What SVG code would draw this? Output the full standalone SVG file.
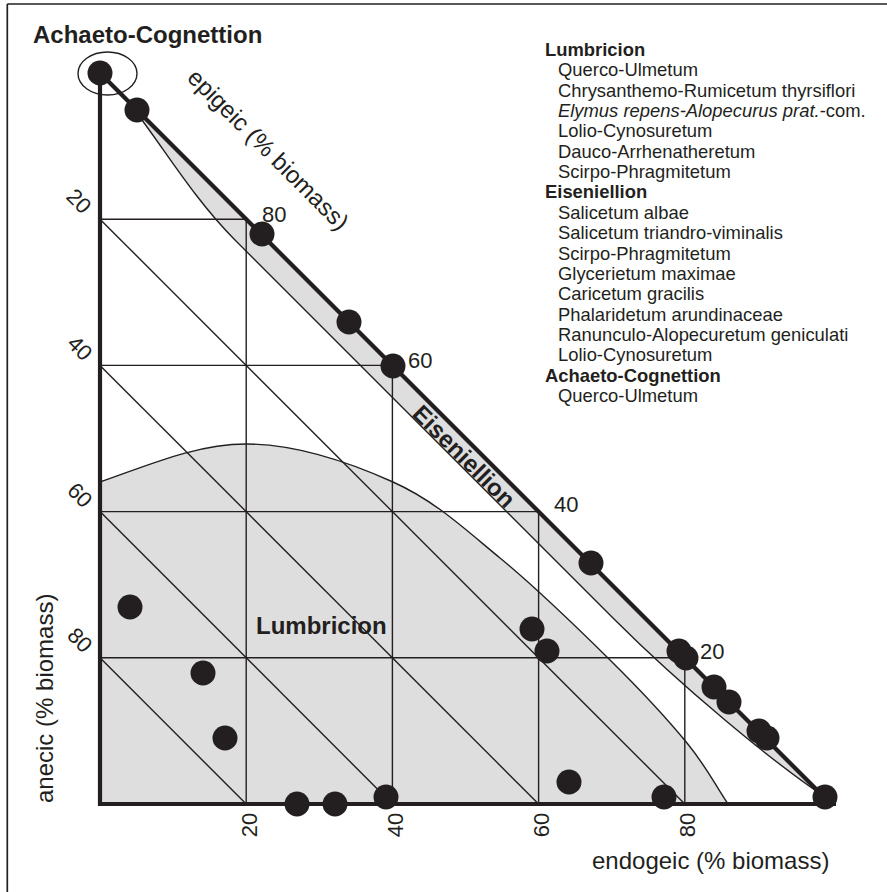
<svg xmlns="http://www.w3.org/2000/svg" width="887" height="892" viewBox="0 0 887 892">
<style>
text{font-family:"Liberation Sans",Arial,sans-serif;fill:#231f20}
.grid{stroke:#231f20;stroke-width:1.4;fill:none}
.thick{stroke:#231f20;stroke-width:4.2;fill:none;stroke-linecap:butt}
.dot{fill:#231f20}
.fill{fill:#dedede}
.ax{font-size:24px}
.tick{font-size:22px}
.lg{font-size:18.4px}
.b{font-weight:bold}
</style>
<rect x="0" y="0" width="887" height="892" fill="#ffffff"/>
<g id="frame" stroke="#231f20" stroke-width="1.7">
<line x1="7.3" y1="4" x2="887" y2="4"/>
<line x1="7.3" y1="4" x2="7.3" y2="892"/>
</g>
<g id="lumbricion-region">
<path class="fill" d="M100,482 C150,464.5 197,444 246,444 C295,444 350.7,463 393,482 C435.3,501 463.8,528.3 500,558 C536.2,587.7 578.8,629.2 610,660 C641.2,690.8 667.3,719 687,743 C706.7,767 714.3,783.7 728,804 L100,804 Z"/>
</g>
<g id="eiseniellion-band">
<path class="fill" d="M136,112 C165,150 195,200 235,240 L615,620 C680,685 770,760 825,797 L831,804 L100,73 Z"/>
</g>
<g id="connectors">
<g class="grid">
<line x1="100" y1="219.2" x2="246.2" y2="219.2"/>
<line x1="100" y1="365.4" x2="392.4" y2="365.4"/>
<line x1="100" y1="511.6" x2="538.6" y2="511.6"/>
<line x1="100" y1="657.8" x2="684.8" y2="657.8"/>
<line x1="246.2" y1="219.2" x2="246.2" y2="804"/>
<line x1="392.4" y1="365.4" x2="392.4" y2="804"/>
<line x1="538.6" y1="511.6" x2="538.6" y2="804"/>
<line x1="684.8" y1="657.8" x2="684.8" y2="804"/>
<line x1="100" y1="219.2" x2="684.8" y2="804"/>
<line x1="100" y1="365.4" x2="538.6" y2="804"/>
<line x1="100" y1="511.6" x2="392.4" y2="804"/>
<line x1="100" y1="657.8" x2="246.2" y2="804"/>
<path d="M100,482 C150,464.5 197,444 246,444 C295,444 350.7,463 393,482 C435.3,501 463.8,528.3 500,558 C536.2,587.7 578.8,629.2 610,660 C641.2,690.8 667.3,719 687,743 C706.7,767 714.3,783.7 728,804"/>
<path d="M136,112 C165,150 195,200 235,240 L615,620 C680,685 770,760 825,797"/>
</g>
<g class="thick">
<line x1="100" y1="73" x2="100" y2="806"/>
<line x1="98" y1="804" x2="836" y2="804"/>
<line x1="100" y1="73" x2="831" y2="804"/>
</g>
</g>
<g id="dots">
<circle class="dot" cx="100" cy="73" r="12.5"/>
<circle class="dot" cx="137" cy="110" r="12.5"/>
<circle class="dot" cx="262" cy="234" r="12.5"/>
<circle class="dot" cx="349" cy="322" r="12.5"/>
<circle class="dot" cx="393" cy="366" r="12.5"/>
<circle class="dot" cx="591" cy="563" r="12.5"/>
<circle class="dot" cx="679" cy="651" r="12.5"/>
<circle class="dot" cx="686" cy="658" r="12.5"/>
<circle class="dot" cx="714" cy="687" r="12.5"/>
<circle class="dot" cx="729" cy="702" r="12.5"/>
<circle class="dot" cx="759" cy="731" r="12.5"/>
<circle class="dot" cx="767" cy="738" r="12.5"/>
<circle class="dot" cx="825" cy="797" r="12.5"/>
<circle class="dot" cx="130" cy="607" r="12.5"/>
<circle class="dot" cx="203" cy="673" r="12.5"/>
<circle class="dot" cx="225" cy="738" r="12.5"/>
<circle class="dot" cx="532" cy="629" r="12.5"/>
<circle class="dot" cx="547" cy="651" r="12.5"/>
<circle class="dot" cx="569" cy="782" r="12.5"/>
<circle class="dot" cx="664" cy="797" r="12.5"/>
<circle class="dot" cx="297" cy="804" r="12.5"/>
<circle class="dot" cx="335" cy="804" r="12.5"/>
<circle class="dot" cx="386" cy="797" r="12.5"/>
</g>
<g id="achaeto-marker">
<ellipse cx="107.5" cy="73.5" rx="29.5" ry="21.5" fill="none" stroke="#231f20" stroke-width="1.4"/>
</g>
<g id="labels">
<text class="b" x="33" y="43" style="font-size:24px">Achaeto-Cognettion</text>
<text class="b" x="256" y="634" style="font-size:24px">Lumbricion</text>
<text class="b" transform="translate(411,415) rotate(45)" style="font-size:24px">Eiseniellion</text>
<text class="ax" transform="translate(186,79) rotate(45)">epigeic (% biomass)</text>
<text class="ax" transform="translate(53,803) rotate(-90)">anecic (% biomass)</text>
<text class="ax" x="592" y="869">endogeic (% biomass)</text>
</g>
<g id="ticks" class="tick">
<text class="tick" x="262" y="222">80</text>
<text class="tick" x="408" y="368">60</text>
<text class="tick" x="554" y="512">40</text>
<text class="tick" x="700" y="659">20</text>
<text class="tick" text-anchor="middle" dy="0.35em" transform="translate(79,201) rotate(45)">20</text>
<text class="tick" text-anchor="middle" dy="0.35em" transform="translate(80,348) rotate(45)">40</text>
<text class="tick" text-anchor="middle" dy="0.35em" transform="translate(80,495) rotate(45)">60</text>
<text class="tick" text-anchor="middle" dy="0.35em" transform="translate(80,640) rotate(45)">80</text>
<text class="tick" text-anchor="middle" transform="translate(257,825) rotate(-90)">20</text>
<text class="tick" text-anchor="middle" transform="translate(403,825) rotate(-90)">40</text>
<text class="tick" text-anchor="middle" transform="translate(549,825) rotate(-90)">60</text>
<text class="tick" text-anchor="middle" transform="translate(695,825) rotate(-90)">80</text>
</g>
<g id="legend" class="lg">
<text class="lg b" x="545" y="56">Lumbricion</text>
<text class="lg" x="558" y="76.35">Querco-Ulmetum</text>
<text class="lg" x="558" y="96.7">Chrysanthemo-Rumicetum thyrsiflori</text>
<text class="lg" x="558" y="117.05"><tspan font-style="italic">Elymus repens-Alopecurus prat.</tspan>-com.</text>
<text class="lg" x="558" y="137.4">Lolio-Cynosuretum</text>
<text class="lg" x="558" y="157.75">Dauco-Arrhenatheretum</text>
<text class="lg" x="558" y="178.1">Scirpo-Phragmitetum</text>
<text class="lg b" x="545" y="198.45">Eiseniellion</text>
<text class="lg" x="558" y="218.8">Salicetum albae</text>
<text class="lg" x="558" y="239.15">Salicetum triandro-viminalis</text>
<text class="lg" x="558" y="259.5">Scirpo-Phragmitetum</text>
<text class="lg" x="558" y="279.85">Glycerietum maximae</text>
<text class="lg" x="558" y="300.2">Caricetum gracilis</text>
<text class="lg" x="558" y="320.55">Phalaridetum arundinaceae</text>
<text class="lg" x="558" y="340.9">Ranunculo-Alopecuretum geniculati</text>
<text class="lg" x="558" y="361.25">Lolio-Cynosuretum</text>
<text class="lg b" x="545" y="381.6">Achaeto-Cognettion</text>
<text class="lg" x="558" y="401.95">Querco-Ulmetum</text>
</g>
</svg>
